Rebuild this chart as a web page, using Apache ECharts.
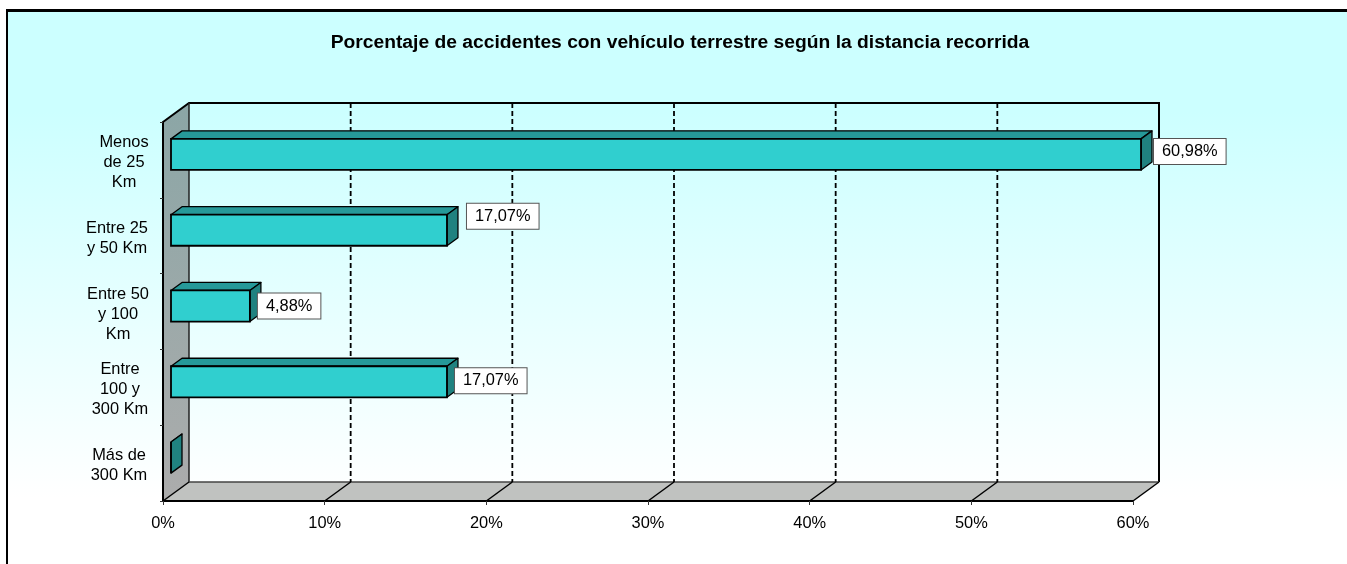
<!DOCTYPE html>
<html>
<head>
<meta charset="utf-8">
<title>Accidentes</title>
<script src="https://cdn.jsdelivr.net/npm/echarts@6/dist/echarts.min.js"></script>
<style>
  html, body { margin: 0; padding: 0; background: #fff; }
  #frame {
    position: absolute; left: 6px; top: 9px; right: 0; bottom: 0;
    border-left: 2px solid #000; border-top: 3px solid #000;
    background: linear-gradient(#ccffff 0%, #ccffff 18%, #ffffff 88%);
  }
  #chart { position: absolute; left: 0; top: 0; width: 1347px; height: 564px; }
</style>
</head>
<body>
<div id="frame"></div>
<div id="chart"></div>
<script>
var titleText = "Porcentaje de accidentes con vehículo terrestre según la distancia recorrida";
var categories = ["Menos\nde 25\nKm", "Entre 25\ny 50 Km", "Entre 50\ny 100\nKm", "Entre\n100 y\n300 Km", "Más de\n300 Km"];
var percentages = [60.98, 17.07, 4.88, 17.07, 0];
var valueTicks = [0, 10, 20, 30, 40, 50, 60];

// layout only: width of each centred axis label block, hand placed data labels
var labelBlockWidths = [50, 64, 62, 58, 60];
var labelNudges = [[13, -3], [20, -14], [8, 0], [8, -1], [0, 0]];

var FONT = '"Liberation Sans", Arial, sans-serif';
var FONT_SIZE = 16.4;
var AXIS_MAX = 60;
var WALL_DX = 26, WALL_DY = 19;   // depth of the fake 3D box
var BAR_DX = 11, BAR_DY = 8;      // depth of each bar
var BAR_OFF_X = 8, BAR_OFF_Y = 5.5;

var rich = {};
labelBlockWidths.forEach(function (w, i) {
  rich["w" + i] = { width: w, align: "center", fontFamily: FONT, fontSize: FONT_SIZE, lineHeight: 20, color: "#000" };
});

function renderWall(params, api) {
  var c = params.coordSys;
  var v = api.value(0);
  var x = api.coord([v, 0])[0];
  var top = c.y, bottom = c.y + c.height;
  var line = { stroke: "#000", lineWidth: 1.5, fill: null };
  var kids = [];

  if (v === 0) {
    kids.push({
      type: "polygon",
      shape: { points: [[x, top], [x + WALL_DX, top - WALL_DY], [x + WALL_DX, bottom - WALL_DY], [x, bottom]] },
      style: {
        fill: new echarts.graphic.LinearGradient(0, 0, 0, 1, [
          { offset: 0, color: "#8ba6a6" },
          { offset: 1, color: "#acacac" }
        ])
      }
    });
    kids.push({
      type: "polygon",
      shape: {
        points: [[x, bottom], [x + WALL_DX, bottom - WALL_DY],
          [c.x + c.width + WALL_DX, bottom - WALL_DY], [c.x + c.width, bottom]]
      },
      style: { fill: "#c0c2c0" }
    });
    // outline of the box
    kids.push({
      type: "polyline",
      shape: {
        points: [[x, top], [x + WALL_DX, top - WALL_DY],
          [c.x + c.width + WALL_DX, top - WALL_DY], [c.x + c.width + WALL_DX, bottom - WALL_DY]]
      },
      style: { stroke: "#000", lineWidth: 2, fill: null }
    });
    kids.push({
      type: "line",
      shape: { x1: x + WALL_DX, y1: top - WALL_DY, x2: x + WALL_DX, y2: bottom - WALL_DY },
      style: { stroke: "#222", lineWidth: 1.5 }
    });
    kids.push({
      type: "line",
      shape: { x1: x + WALL_DX, y1: bottom - WALL_DY, x2: c.x + c.width + WALL_DX, y2: bottom - WALL_DY },
      style: { stroke: "#444", lineWidth: 1.5 }
    });
  } else if (v < AXIS_MAX) {
    kids.push({
      type: "line",
      shape: { x1: x + WALL_DX, y1: top - WALL_DY, x2: x + WALL_DX, y2: bottom - WALL_DY },
      style: { stroke: "#000", lineWidth: 1.8, lineDash: [5, 3] }
    });
  }
  kids.push({
    type: "line",
    shape: { x1: x, y1: bottom, x2: x + WALL_DX, y2: bottom - WALL_DY },
    style: line
  });
  return { type: "group", children: kids };
}

function renderBar(params, api) {
  var value = api.value(0);
  var idx = api.value(1);
  var base = api.coord([0, idx]);
  var end = api.coord([Math.min(value, AXIS_MAX), idx]);
  var h = api.size([0, 1])[1] * 0.41;

  var x0 = base[0] + BAR_OFF_X;
  var x1 = end[0] + BAR_OFF_X;
  var y0 = base[1] - BAR_OFF_Y - h / 2;
  var y1 = y0 + h;
  var edge = { stroke: "#000", lineWidth: 1.3, lineJoin: "round" };

  var kids = [
    {
      type: "polygon",
      shape: { points: [[x0, y0], [x0 + BAR_DX, y0 - BAR_DY], [x1 + BAR_DX, y0 - BAR_DY], [x1, y0]] },
      style: Object.assign({ fill: "#269999" }, edge)
    },
    {
      type: "polygon",
      shape: { points: [[x1, y0], [x1 + BAR_DX, y0 - BAR_DY], [x1 + BAR_DX, y1 - BAR_DY], [x1, y1]] },
      style: Object.assign({ fill: "#208280" }, edge)
    },
    {
      type: "rect",
      shape: { x: x0, y: y0, width: x1 - x0, height: h },
      style: { fill: "#30cfcf", stroke: "#000", lineWidth: 1.8 }
    }
  ];

  if (value > 0) {
    var nudge = labelNudges[params.dataIndex];
    kids.push({
      type: "text",
      z2: 50,
      style: {
        x: x1 + nudge[0],
        y: (y0 + y1) / 2 + nudge[1],
        text: value.toFixed(2).replace(".", ",") + "%",
        font: FONT_SIZE + "px " + FONT,
        fill: "#000",
        align: "left",
        verticalAlign: "middle",
        backgroundColor: "#fff",
        borderColor: "#555",
        borderWidth: 1,
        padding: [5, 8, 4, 8]
      }
    });
  }
  return { type: "group", children: kids };
}

var chart = echarts.init(document.getElementById("chart"));
chart.setOption({
  animation: false,
  backgroundColor: "transparent",
  title: {
    text: titleText,
    left: 680,
    top: 28,
    textAlign: "center",
    textStyle: { fontFamily: FONT, fontSize: 19.25, fontWeight: "bold", color: "#000" },
    padding: [5, 10, 5, 0]
  },
  grid: { left: 163, top: 122, width: 970, height: 379, containLabel: false },
  xAxis: {
    type: "value",
    min: 0,
    max: AXIS_MAX,
    interval: 10,
    z: 5,
    splitLine: { show: false },
    axisLine: { show: true, lineStyle: { color: "#000", width: 2 } },
    axisTick: { show: true, length: 4, lineStyle: { color: "#333", width: 1 } },
    axisLabel: { formatter: "{value}%", margin: 14, color: "#000", fontFamily: FONT, fontSize: FONT_SIZE }
  },
  yAxis: {
    type: "category",
    inverse: true,
    data: categories,
    z: 5,
    splitLine: { show: false },
    axisLine: { show: true, lineStyle: { color: "#000", width: 2 } },
    axisTick: { show: true, length: 3, lineStyle: { color: "#333", width: 1 } },
    axisLabel: {
      margin: 14,
      align: "right",
      interval: 0,
      padding: [5, 0, 0, 0],
      rich: rich,
      formatter: function (value, i) {
        return value.split("\n").map(function (part) {
          return "{w" + i + "|" + part + "}";
        }).join("\n");
      }
    }
  },
  series: [
    {
      type: "custom",
      silent: true,
      clip: false,
      z: 1,
      coordinateSystem: "cartesian2d",
      renderItem: renderWall,
      encode: { x: 0, y: 1 },
      data: valueTicks.map(function (v) { return [v, 0]; })
    },
    {
      type: "custom",
      silent: true,
      clip: false,
      z: 2,
      coordinateSystem: "cartesian2d",
      renderItem: renderBar,
      encode: { x: 0, y: 1 },
      data: percentages.map(function (v, i) { return [v, i]; })
    }
  ]
});
</script>
</body>
</html>
